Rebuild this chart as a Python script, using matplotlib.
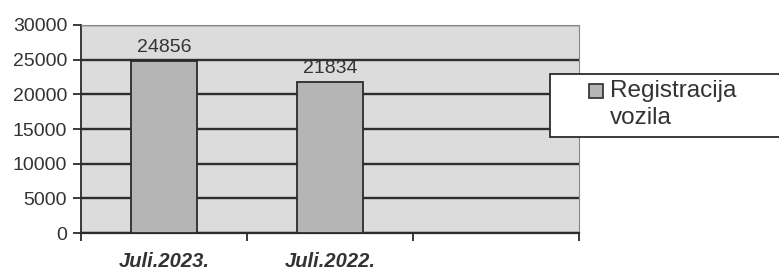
import numpy as np
import matplotlib as mpl
mpl.use('Agg')
import matplotlib.pyplot as plt
from matplotlib.patches import Rectangle

categories = ['Juli.2023.', 'Juli.2022.', '']
values = [24856, 21834, None]
series_name = 'Registracija\nvozila'
yticks = [0, 5000, 10000, 15000, 20000, 25000, 30000]

plt.rcParams['font.family'] = ['Liberation Sans', 'DejaVu Sans']

W, H = 779, 273
fig = plt.figure(figsize=(W / 100, H / 100), dpi=100)
ax = fig.add_axes([81 / W, 40 / H, 498 / W, 208 / H])
ax.set_facecolor('#dcdcdc')

x = np.arange(len(categories))
shown = [i for i, v in enumerate(values) if v is not None]
bar_color = '#b5b5b5'
bars = ax.bar(x[shown], [values[i] for i in shown], width=0.4, color=bar_color,
              edgecolor='#2b2b2b', linewidth=1.3, zorder=3)

for i in shown:
    ax.annotate(str(values[i]), (x[i], values[i]), xytext=(0, 3), textcoords='offset points',
                ha='center', va='bottom', fontsize=14, color='#333333', zorder=4)

ax.set_xlim(-0.5, len(categories) - 0.5)
ax.set_ylim(0, 30000)
ax.set_yticks(yticks)
ax.set_yticklabels([str(t) for t in yticks], fontsize=14, color='#333333')
ax.yaxis.grid(True, color='#2e2e2e', linewidth=1.7, zorder=1)
ax.set_axisbelow(True)

# category boundaries as ticks, labels in the middle
ax.set_xticks(np.arange(len(categories) + 1) - 0.5)
ax.set_xticklabels([])
ax.set_xticks(x, minor=True)
ax.set_xticklabels(categories, minor=True, fontsize=14.5, fontweight='bold',
                   fontstyle='italic', color='#333333')
ax.tick_params(axis='x', which='major', length=6, width=1.3, color='#2b2b2b', direction='out')
ax.tick_params(axis='x', which='minor', length=0, pad=14)
ax.tick_params(axis='y', length=6, width=1.3, color='#2b2b2b', pad=4)

ax.spines['left'].set_color('#2b2b2b')
ax.spines['left'].set_linewidth(1.3)
ax.spines['bottom'].set_color('#2b2b2b')
ax.spines['bottom'].set_linewidth(1.6)
ax.spines['top'].set_color('#888888')
ax.spines['right'].set_color('#888888')

# legend box (Excel style, marker next to first line)
fig.patches.append(Rectangle((550 / W, 1 - 137 / H), 240 / W, 63 / H, transform=fig.transFigure,
                             facecolor='white', edgecolor='#2b2b2b', linewidth=1.3, zorder=5))
fig.patches.append(Rectangle((589 / W, 1 - 98 / H), 14 / W, 14 / H, transform=fig.transFigure,
                             facecolor=bar_color, edgecolor='#2b2b2b', linewidth=1.2, zorder=6))
fig.text(610 / W, 1 - 80 / H, series_name, fontsize=17.5, color='#333333', ha='left', va='top',
         linespacing=1.3, zorder=7)

plt.savefig('out.png', dpi=100)
